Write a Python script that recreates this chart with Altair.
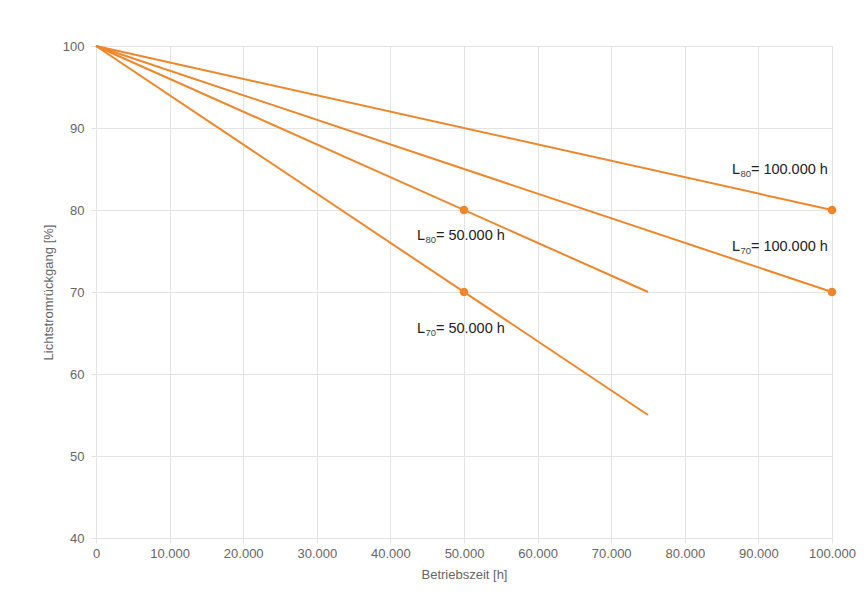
import altair as alt
import pandas as pd

# ---- data ----
series = ["L80_100k", "L70_100k", "L80_50k", "L70_50k"]
start_hours = [0, 0, 0, 0]
start_flux = [100, 100, 100, 100]
end_hours = [100000, 100000, 75000, 75000]
end_flux = [80, 70, 70, 55]

point_hours = [100000, 100000, 50000, 50000]
point_flux = [80, 70, 80, 70]

label_main = ["L", "L", "L", "L"]
label_sub = ["80", "70", "80", "70"]
label_rest = ["= 100.000 h", "= 100.000 h", "= 50.000 h", "= 50.000 h"]
label_hours = [86400, 86400, 43600, 43600]
label_flux = [84.9, 75.5, 76.8, 65.5]

x_ticks = list(range(0, 100001, 10000))
y_ticks = [40, 50, 60, 70, 80, 90, 100]

ORANGE = "#f0862a"
FONT = "Liberation Sans"

rows = []
for s, x0, y0, x1, y1 in zip(series, start_hours, start_flux, end_hours, end_flux):
    rows.append({"series": s, "hours": x0, "flux": y0})
    rows.append({"series": s, "hours": x1, "flux": y1})
lines_df = pd.DataFrame(rows)
points_df = pd.DataFrame({"hours": point_hours, "flux": point_flux})
labels_df = pd.DataFrame({
    "hours": label_hours, "flux": label_flux,
    "main": label_main, "sub": label_sub, "rest": label_rest,
})

x_scale = alt.Scale(domain=[0, 100000], nice=False)
y_scale = alt.Scale(domain=[40, 100], nice=False, zero=False)

x_axis = alt.Axis(
    title="Betriebszeit [h]", values=x_ticks, labelFlush=False,
    labelExpr="replace(format(datum.value, ','), ',', '.')",
)
y_axis = alt.Axis(title="Lichtstromrückgang [%]", values=y_ticks)

lines = alt.Chart(lines_df).mark_line(color=ORANGE, strokeWidth=2).encode(
    x=alt.X("hours:Q", scale=x_scale, axis=x_axis),
    y=alt.Y("flux:Q", scale=y_scale, axis=y_axis),
    detail="series:N",
)

points = alt.Chart(points_df).mark_circle(color=ORANGE, size=75, opacity=1).encode(
    x=alt.X("hours:Q", scale=x_scale),
    y=alt.Y("flux:Q", scale=y_scale),
)

base_text = alt.Chart(labels_df).encode(
    x=alt.X("hours:Q", scale=x_scale),
    y=alt.Y("flux:Q", scale=y_scale),
)
t_main = base_text.mark_text(align="left", baseline="middle", font=FONT,
                             fontSize=14.5, color="#222").encode(text="main:N")
t_sub = base_text.mark_text(align="left", baseline="middle", font=FONT,
                            fontSize=9.5, color="#444", dx=8.5, dy=4).encode(text="sub:N")
t_rest = base_text.mark_text(align="left", baseline="middle", font=FONT,
                             fontSize=14.5, color="#222", dx=19).encode(text="rest:N")

chart = alt.layer(lines, points, t_main, t_sub, t_rest).properties(
    width=736, height=492,
    autosize=alt.AutoSizeParams(type="none"),
    padding={"left": 88, "top": 38, "right": 24, "bottom": 56},
    background="white",
).configure_view(
    stroke=None,
).configure_axis(
    labelFont=FONT, titleFont=FONT,
    labelFontSize=13, titleFontSize=13,
    labelColor="#666", titleColor="#666",
    titleFontWeight="normal",
    gridColor="#e3e3e3", domainColor="#e3e3e3", tickColor="#e3e3e3",
    tickSize=5, grid=True,
).configure_axisX(
    labelPadding=4, titlePadding=8,
).configure_axisY(
    labelPadding=7, titlePadding=7,
)

chart.save("out.html", embed_options={"renderer": "svg", "actions": False})
